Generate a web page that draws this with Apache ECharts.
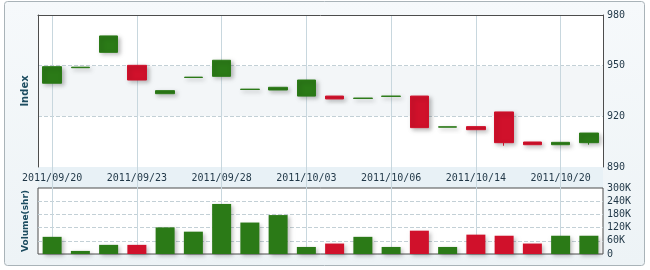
<!DOCTYPE html>
<html><head><meta charset="utf-8">
<script src="https://cdn.jsdelivr.net/npm/echarts@6/dist/echarts.min.js"></script>
<style>html,body{margin:0;padding:0;background:#fff}#c{width:650px;height:270px}</style>
</head><body><div id="c"></div>
<script>
// ---- data ----
const dates = ['2011/09/20','2011/09/21','2011/09/22','2011/09/23','2011/09/26','2011/09/27','2011/09/28','2011/09/29','2011/09/30','2011/10/03',
               '2011/10/04','2011/10/05','2011/10/06','2011/10/07','2011/10/13','2011/10/14','2011/10/17','2011/10/18','2011/10/20','2011/10/21'];
const openV  = [939.6, 948.8, 957.9, 950.2, 933.4, 943.0, 943.7, 935.9, 935.6, 932.0, 932.0, 930.6, 931.8, 932.0, 913.6, 913.9, 922.6, 904.8, 903.2, 904.4];
const closeV = [949.4, 949.1, 967.6, 941.5, 935.2, 943.2, 953.2, 936.1, 937.2, 941.5, 930.3, 930.8, 932.0, 913.3, 913.8, 912.1, 904.4, 903.2, 904.6, 910.1];
const lowV   = [939.6, 948.8, 957.9, 941.5, 933.4, 943.0, 943.7, 935.9, 935.6, 932.0, 930.3, 930.6, 931.8, 913.3, 913.6, 912.1, 902.6, 903.2, 903.2, 903.2];
const highV  = [949.4, 949.1, 967.6, 950.2, 935.2, 943.2, 953.2, 936.1, 937.2, 941.5, 932.0, 930.8, 932.0, 932.0, 913.8, 913.9, 922.6, 904.8, 904.6, 910.1];
const volumeV = [78000, 14000, 41500, 41500, 121000, 101500, 227500, 143000, 177000, 32000,
                 47500, 78000, 32000, 106000, 32000, 88000, 83000, 47500, 83000, 83000];
const priceMin = 890, priceMax = 980, priceStep = 30;
const volMin = 0, volMax = 300000, volStep = 60000;

// ---- styles ----
const GREEN = '#2b7a17', RED = '#d0112b';
const AXIS = '#4d4d4d', GRIDV = '#c8d7de', DASH = '#c3d0d6';
const TXT = '#1f3646';
const FONT = 'DejaVu Sans Mono';
const L = 38, R = 47;
const vSplit = {show: true, interval: 2, alignWithLabel: true, lineStyle: {color: GRIDV, width: 1}};
const shadow = {shadowBlur: 4, shadowOffsetX: 2, shadowOffsetY: 2, shadowColor: 'rgba(0,0,0,0.25)'};

const chart = echarts.init(document.getElementById('c'), null, {renderer: 'canvas'});
chart.setOption({
  animation: false,
  graphic: [{
    type: 'rect', z: -10, silent: true,
    shape: {x: 4.5, y: 1.5, width: 640, height: 264, r: 3},
    style: {fill: {type: 'linear', x: 0, y: 0, x2: 0, y2: 1,
      colorStops: [{offset: 0, color: '#f6f9fb'}, {offset: 1, color: '#edf3f6'}]},
      stroke: '#a9b3b8', lineWidth: 1}
  }],
  grid: [
    {left: L, right: R, top: 15, height: 152, show: true, backgroundColor: '#fff', borderWidth: 0},
    {left: L, right: R, top: 167, height: 21, show: true, backgroundColor: '#e8f1f6', borderWidth: 0},
    {left: L, right: R, top: 188, height: 66, show: true, backgroundColor: '#fff', borderColor: AXIS, borderWidth: 1}
  ],
  xAxis: [
    {type: 'category', gridIndex: 0, data: dates, position: 'top',
     axisLine: {show: true, onZero: false, lineStyle: {color: AXIS}}, axisTick: {show: false},
     axisLabel: {show: false}, splitLine: vSplit},
    {type: 'category', gridIndex: 1, data: dates, position: 'top',
     axisLine: {show: false, onZero: false}, axisTick: {show: false},
     axisLabel: {show: true, inside: true, interval: 2, margin: 6, color: TXT, fontFamily: FONT, fontSize: 10},
     splitLine: vSplit},
    {type: 'category', gridIndex: 2, data: dates,
     axisLine: {show: false, onZero: false}, axisTick: {show: false},
     axisLabel: {show: false}, splitLine: vSplit}
  ],
  yAxis: [
    {type: 'value', gridIndex: 0, position: 'right', min: priceMin, max: priceMax, interval: priceStep,
     axisLine: {show: true, onZero: false, lineStyle: {color: AXIS}}, axisTick: {show: false},
     axisLabel: {margin: 4, color: TXT, fontFamily: FONT, fontSize: 10},
     splitLine: {show: true, showMinLine: false, showMaxLine: false, lineStyle: {type: 'dashed', color: DASH}},
     splitArea: {show: true, areaStyle: {color: ['#ffffff', '#f3f6f8']}}},
    {type: 'value', gridIndex: 0, position: 'left', min: priceMin, max: priceMax, interval: priceStep,
     axisLine: {show: true, onZero: false, lineStyle: {color: AXIS}}, axisTick: {show: false},
     axisLabel: {show: false}, splitLine: {show: false},
     name: 'Index', nameLocation: 'middle', nameRotate: 90, nameGap: 8,
     nameTextStyle: {color: '#1c4c60', fontWeight: 'bold', fontFamily: 'DejaVu Sans', fontSize: 10}},
    {type: 'value', gridIndex: 1, show: false},
    {type: 'value', gridIndex: 2, position: 'right', min: volMin, max: volMax, interval: volStep,
     axisLine: {show: false}, axisTick: {show: false},
     axisLabel: {margin: 4, color: TXT, fontFamily: FONT, fontSize: 10,
       formatter: v => v === 0 ? '0' : (v / 1000) + 'K'},
     splitLine: {show: true, showMinLine: false, showMaxLine: false, lineStyle: {type: 'dashed', color: DASH}}},
    {type: 'value', gridIndex: 2, position: 'left', min: volMin, max: volMax,
     axisLine: {show: false}, axisTick: {show: false}, axisLabel: {show: false}, splitLine: {show: false},
     name: 'Volume(shr)', nameLocation: 'middle', nameRotate: 90, nameGap: 8,
     nameTextStyle: {color: '#1c4c60', fontWeight: 'bold', fontFamily: 'DejaVu Sans', fontSize: 9}}
  ],
  series: [
    {type: 'candlestick', xAxisIndex: 0, yAxisIndex: 0, barWidth: 19,
     data: dates.map((d, i) => [openV[i], closeV[i], lowV[i], highV[i]]),
     itemStyle: Object.assign({color: GREEN, color0: RED, borderColor: GREEN, borderColor0: RED, borderWidth: 1}, shadow)},
    {type: 'bar', xAxisIndex: 2, yAxisIndex: 3, barWidth: 19, data: volumeV,
     itemStyle: Object.assign({color: p => closeV[p.dataIndex] >= openV[p.dataIndex] ? GREEN : RED}, shadow)}
  ]
});
</script>
</body></html>
